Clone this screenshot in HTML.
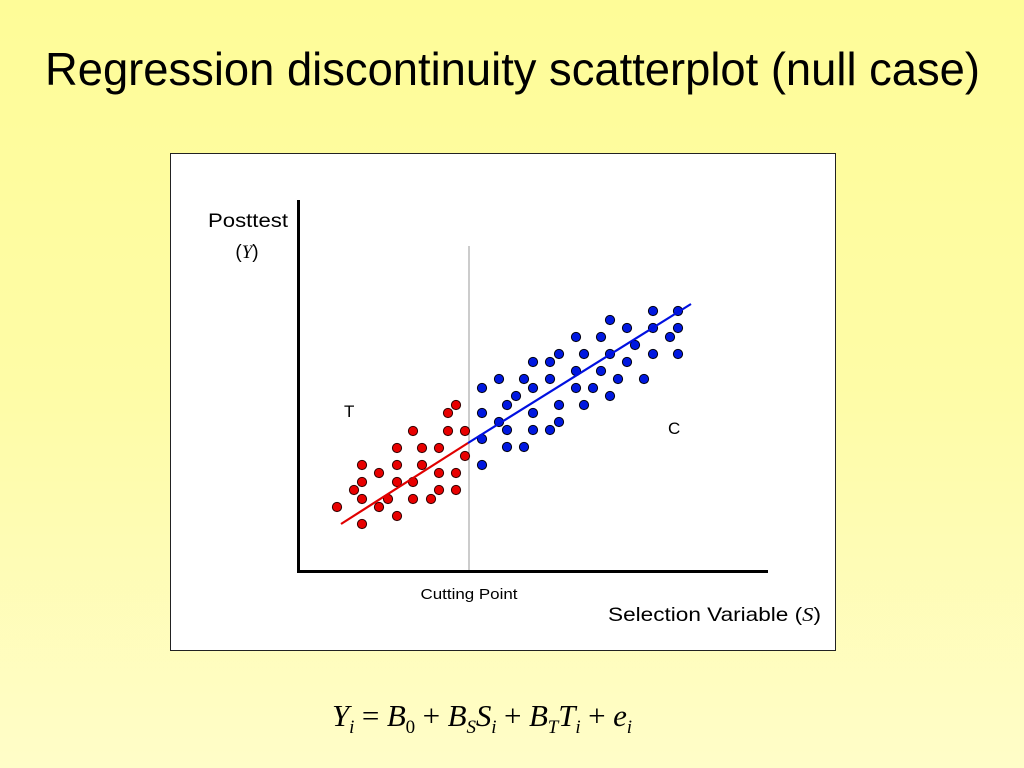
<!DOCTYPE html>
<html><head><meta charset="utf-8"><style>
html,body{margin:0;padding:0;width:1024px;height:768px;overflow:hidden}
body{background:linear-gradient(to bottom,#fefc98 0%,#fefca6 50%,#fffdc8 100%)}
svg{position:absolute;left:0;top:0}
</style></head><body>
<svg id="chart" width="1024" height="768" font-family="Liberation Sans, Arial, sans-serif">
<text x="45" y="85" font-size="46" textLength="935" lengthAdjust="spacingAndGlyphs" fill="#000">Regression discontinuity scatterplot (null case)</text>
<rect x="170.5" y="153.5" width="665" height="497" fill="#fff" stroke="#222" stroke-width="1"/>
<g id="plot"></g>
<line x1="298.5" y1="200" x2="298.5" y2="572" stroke="#000" stroke-width="3"/>
<line x1="297" y1="571.5" x2="768" y2="571.5" stroke="#000" stroke-width="3"/>
<text x="248" y="227" font-size="19" textLength="80" lengthAdjust="spacingAndGlyphs" text-anchor="middle">Posttest</text>
<text x="247" y="258" font-size="19" text-anchor="middle">(<tspan font-family="Liberation Serif, serif" font-style="italic">Y</tspan>)</text>
<text x="469" y="599" font-size="15" textLength="97" lengthAdjust="spacingAndGlyphs" text-anchor="middle">Cutting Point</text>
<text x="608" y="621" font-size="19.5" textLength="213" lengthAdjust="spacingAndGlyphs">Selection Variable (<tspan font-family="Liberation Serif, serif" font-style="italic">S</tspan>)</text>
<text x="344" y="417" font-size="17">T</text>
<text x="668" y="434" font-size="17">C</text>
<text x="332" y="726" font-size="31" font-family="Liberation Serif, serif" textLength="300" lengthAdjust="spacing"><tspan font-style="italic">Y</tspan><tspan font-size="19" font-style="italic" dy="7">i</tspan><tspan dy="-7"> = </tspan><tspan font-style="italic">B</tspan><tspan font-size="19" dy="7">0</tspan><tspan dy="-7"> + </tspan><tspan font-style="italic">B</tspan><tspan font-size="19" font-style="italic" dy="7">S</tspan><tspan font-style="italic" dy="-7">S</tspan><tspan font-size="19" font-style="italic" dy="7">i</tspan><tspan dy="-7"> + </tspan><tspan font-style="italic">B</tspan><tspan font-size="19" font-style="italic" dy="7">T</tspan><tspan font-style="italic" dy="-7">T</tspan><tspan font-size="19" font-style="italic" dy="7">i</tspan><tspan dy="-7"> + </tspan><tspan font-style="italic">e</tspan><tspan font-size="19" font-style="italic" dy="7">i</tspan></text>
</svg>
<script>
// data units: selection variable S (x), posttest Y (y)
const treatX=[156,148,113,148,165,97,122,139,165,62,79,97,122,62,97,113,139,156,54,139,156,62,88,113,131,37,79,97,62];
const treatY=[165,157,139,139,139,122,122,122,114,105,97,105,105,88,88,88,97,97,80,80,80,71,71,71,71,63,63,54,46];
const ctrlX=[353,378,310,327,353,378,370,276,301,335,259,284,310,353,378,233,250,327,276,301,199,224,250,318,344,182,233,276,293,216,310,207,259,284,182,233,199,259,207,233,250,182,207,224,182];
const ctrlY=[259,259,250,242,242,242,233,233,233,225,216,216,216,216,216,208,208,208,199,199,191,191,191,191,191,182,182,182,182,174,174,165,165,165,157,157,148,148,140,140,140,131,123,123,105];
const cutoff=169;
const treatLine=[[41,46],[168,127]];
const ctrlLine=[[168,127],[391,266]];
const xS=v=>300+v, yS=v=>570-v;
const g=document.getElementById('plot');
const NS='http://www.w3.org/2000/svg';
function mk(t,a){const e=document.createElementNS(NS,t);for(const k in a)e.setAttribute(k,a[k]);g.appendChild(e);return e;}
const cl=mk('line',{x1:xS(cutoff),x2:xS(cutoff),y1:246,y2:570,stroke:'#999','stroke-width':1});


treatX.forEach((v,i)=>{const c=mk('circle',{cx:xS(v),cy:yS(treatY[i]),r:4.6,fill:'#e80000',stroke:'#300','stroke-width':1});

});
ctrlX.forEach((v,i)=>{const c=mk('circle',{cx:xS(v),cy:yS(ctrlY[i]),r:4.6,fill:'#0018e0',stroke:'#001','stroke-width':1});

});
const l1=mk('line',{x1:xS(treatLine[0][0]),y1:yS(treatLine[0][1]),x2:xS(treatLine[1][0]),y2:yS(treatLine[1][1]),stroke:'#e00000','stroke-width':2.2});


const l2=mk('line',{x1:xS(ctrlLine[0][0]),y1:yS(ctrlLine[0][1]),x2:xS(ctrlLine[1][0]),y2:yS(ctrlLine[1][1]),stroke:'#0010e0','stroke-width':2.2});


</script>
</body></html>
